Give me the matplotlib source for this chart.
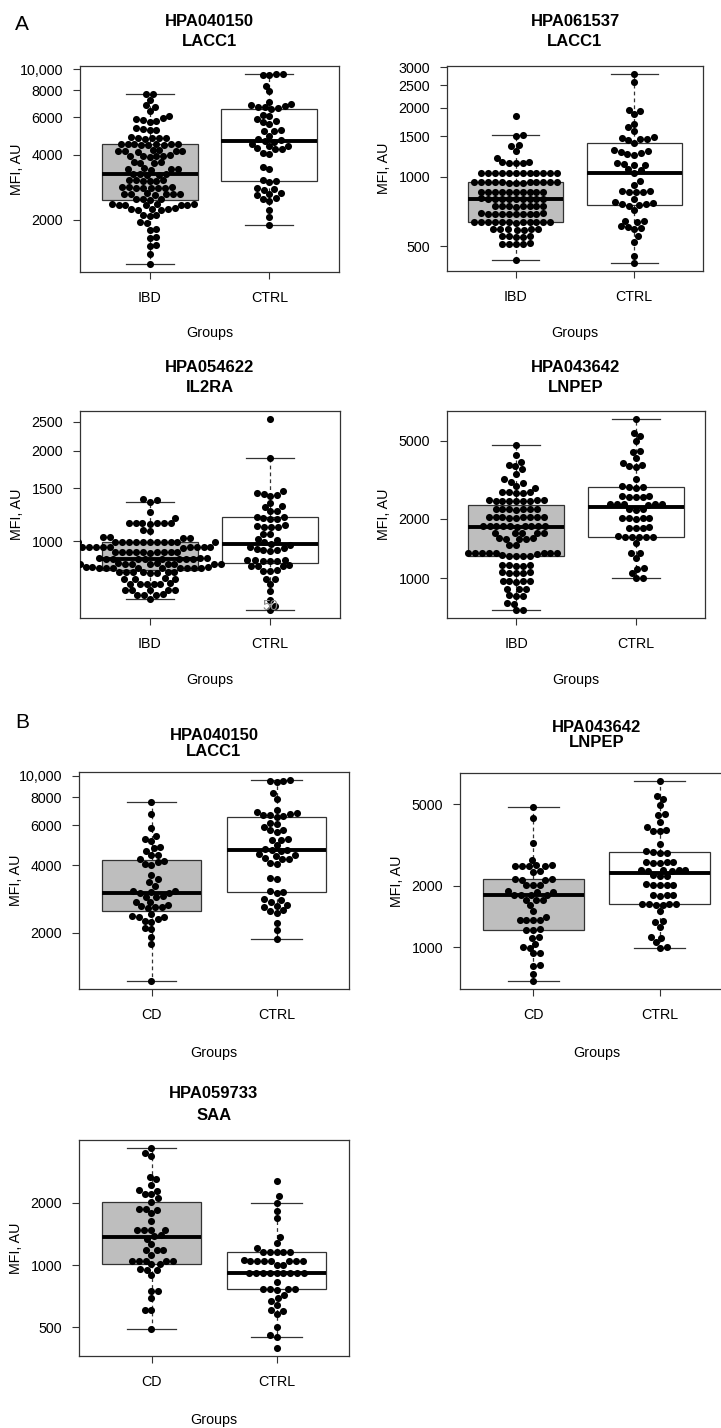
import numpy as np
import matplotlib
matplotlib.use('Agg')
import matplotlib.pyplot as plt
from matplotlib.ticker import NullLocator, FixedLocator, FixedFormatter

# ---------------- data (MFI, AU) ----------------
lacc1_040150_ibd = [7700, 7650, 7200, 6800, 6700, 6400, 6050, 5950,
    5850, 5800, 5750, 5700, 5350, 5300, 5250, 5200,
    4850, 4800, 4800, 4780, 4750, 4820,
    4520, 4500, 4480, 4500, 4460, 4490, 4510, 4470, 4450,
    4200, 4180, 4150, 4170, 4220, 4160, 4190,
    3980, 3950, 3960, 3940, 3970, 3930,
    3700, 3680, 3720, 3660,
    3460, 3440, 3450, 3420, 3430,
    3260, 3250, 3240, 3270, 3230,
    3060, 3050, 3040, 3030, 3020, 3050,
    2830, 2820, 2810, 2840, 2800, 2830, 2820, 2810,
    2640, 2630, 2620, 2650, 2630, 2610, 2640,
    2500, 2490, 2480, 2500,
    2360, 2350, 2340, 2370, 2350, 2330, 2360, 2340,
    2250, 2240, 2230, 2260, 2240, 2220,
    2100, 2090, 2110, 1950, 1930, 1820, 1800, 1670, 1650, 1530, 1510,
    1390, 1240]
lacc1_040150_ctrl = [9550, 9450, 9400, 9500, 8400, 7900,
    7050, 6900, 6800, 6750, 6700, 6650, 6600,
    6550, 6150, 6100, 5900, 5750, 5700, 5600, 5200, 5180, 5150,
    4900, 4720, 4680, 4650, 4600,
    4500, 4420, 4380, 4300, 4260, 4240, 4100, 4050,
    3500, 3450, 3060, 3040, 3000, 2820, 2790, 2750,
    2660, 2640, 2600, 2520, 2500, 2450, 2220, 2050, 1880]

lacc1_061537_ibd = [1840, 1515, 1505, 1380, 1365, 1300, 1205,
    1158, 1155, 1152, 1148, 1145,
    1042, 1040, 1044, 1038, 1041, 1039, 1043, 1037, 1040, 1042, 1038, 1041,
    948, 946, 950, 944, 947, 945, 949, 943, 946, 948, 944, 947, 945,
    860, 858, 862, 857, 861, 859, 863, 856, 860, 858,
    802, 800, 804, 799, 803, 801, 805, 798, 802, 800,
    746, 744, 748, 743, 747, 745, 749, 742,
    691, 689, 693, 688, 692, 690, 694, 687, 691, 689,
    636, 634, 638, 633, 637, 635, 639, 632, 636, 634, 638, 633,
    592, 590, 594, 589, 593, 591, 588,
    552, 550, 554, 549, 551,
    511, 509, 513, 508, 510, 434]
lacc1_061537_ctrl = [2815, 2600, 1960, 1940, 1880, 1700, 1640, 1580,
    1485, 1475, 1465, 1455, 1445, 1400,
    1310, 1295, 1280, 1265, 1255, 1250,
    1150, 1140, 1130, 1125, 1080, 1070, 1040, 955, 920,
    870, 865, 862, 858, 855, 800,
    775, 770, 765, 760, 755, 750, 720,
    645, 640, 635, 610, 605, 600, 595, 553, 521, 453, 420]

il2ra_ibd = [1380, 1370, 1355, 1250, 1200,
    1150, 1148, 1152, 1147, 1151, 1149, 1153, 1090, 1085,
    1032, 1030, 1028, 1031,
    996, 994, 998, 993, 997, 995, 999, 992, 996, 994, 998, 995,
    958, 956, 960, 955, 959, 957, 961, 954, 958, 956,
    922, 920, 924, 919, 923, 921, 925, 918, 922, 920,
    876, 874, 878, 873, 877, 875, 879, 872, 876, 874, 878,
    843, 841, 845, 840, 844, 842, 846, 839, 843, 841,
    818, 816, 820, 815, 819, 817, 821, 814, 818, 816, 820, 815,
    791, 789, 793, 788, 792, 790, 794, 787,
    752, 750, 748, 754, 724, 722, 720, 726, 721, 723,
    690, 688, 692, 687, 691, 666, 664, 668, 663, 645]
il2ra_ctrl = [2560, 1900, 1470, 1450, 1440, 1430, 1420,
    1340, 1310, 1300, 1262, 1258,
    1210, 1205, 1200, 1190, 1185, 1130, 1125, 1120, 1118, 1115,
    1062, 1058, 1015, 1010, 995, 980, 975, 960, 948, 945,
    940, 935, 930, 870, 868, 862, 858, 865, 860,
    832, 830, 828, 826, 802, 800, 798,
    752, 748, 722, 683, 638, 611, 590]

lnpep_ibd = [4770, 4240, 3900, 3780, 3700, 3580, 3400, 3200, 3100, 3050, 2950, 2880,
    2740, 2730, 2720, 2735, 2725,
    2485, 2480, 2475, 2490, 2470, 2482, 2478, 2488, 2472,
    2245, 2240, 2235, 2250, 2230, 2242, 2238,
    2045, 2040, 2035, 2050, 2030, 2042, 2038, 2048, 2032,
    1845, 1840, 1835, 1850, 1830, 1842, 1838, 1848, 1832, 1844,
    1705, 1700, 1695, 1702, 1698, 1595, 1590, 1585, 1592, 1588,
    1480, 1470,
    1345, 1340, 1335, 1342, 1338, 1344, 1336, 1348, 1332,
    1302, 1298, 1300, 1305, 1295, 1162, 1158, 1160, 1165, 1155,
    1068, 1062, 1065, 1070, 1060, 968, 962, 965, 970, 960,
    880, 876, 882, 815, 812, 818, 745, 740, 690, 685]
lnpep_ctrl = [6480, 5500, 5300, 4960, 4450, 4400, 4080, 3850, 3750, 3700, 3680, 3190,
    2940, 2920, 2880, 2900, 2620, 2600, 2590, 2610, 2580,
    2390, 2380, 2370, 2385, 2375, 2360, 2250, 2240, 2230,
    2030, 2020, 2010, 2025, 2015, 1810, 1800, 1790, 1805,
    1625, 1620, 1615, 1630, 1610, 1622,
    1500, 1345, 1335, 1260, 1125, 1115, 1065, 1002, 998]

lacc1_040150_cd = [7600, 6740, 5830, 5400, 5200, 5100, 4800, 4750, 4600, 4450, 4440,
    4250, 4150, 4140, 4050, 4000,
    3600, 3450, 3350, 3230, 3050, 3045, 3000, 3005, 3050,
    2900, 2895, 2880, 2750, 2730, 2650, 2600, 2570, 2605, 2620,
    2420, 2380, 2350, 2260, 2240, 2310, 2345,
    2070, 2100, 1910, 1780, 1220]
lnpep_cd = [4820, 4270, 3240, 2680, 2510, 2500, 2495, 2505, 2490, 2515,
    2360, 2340, 2150, 2140, 2135, 2145, 2025, 2020, 2015,
    1875, 1870, 1865, 1805, 1800, 1795, 1810, 1705, 1700, 1695,
    1610, 1500, 1410, 1365, 1360, 1355, 1362, 1225, 1220, 1215,
    1125, 1115, 1040, 1002, 998, 940, 935, 818, 812, 743, 685]

saa_cd = [3685, 3490, 3380, 2680, 2600, 2450, 2300, 2295, 2200, 2200, 2100, 2030,
    1865, 1860, 1855, 1780, 1640,
    1485, 1480, 1478, 1482, 1400, 1380, 1340, 1260,
    1185, 1180, 1178, 1120,
    1052, 1050, 1048, 1051, 1049, 1012, 1008,
    955, 950, 948, 900, 752, 748, 690, 607, 603, 493]
saa_ctrl = [2560, 2150, 2000, 1830, 1685, 1370, 1283, 1215,
    1158, 1155, 1152, 1156, 1154,
    1052, 1050, 1048, 1051, 1049, 1053, 1047, 1050, 1002, 998,
    916, 914, 912, 915, 913, 917, 911, 914, 916, 830,
    765, 763, 761, 764, 762,
    720, 690, 670, 640, 605, 602, 580, 500, 460, 450, 397]

groups_a = ['IBD', 'CTRL']
groups_b = ['CD', 'CTRL']
ticks_lacc1_a = [2000, 4000, 6000, 8000, 10000]
labels_lacc1_a = ['2000', '4000', '6000', '8000', '10,000']
ticks_061537 = [500, 1000, 1500, 2000, 2500, 3000]
labels_061537 = ['500', '1000', '1500', '2000', '2500', '3000']
ticks_il2ra = [1000, 1500, 2000, 2500]
labels_il2ra = ['1000', '1500', '2000', '2500']
ticks_lnpep = [1000, 2000, 5000]
labels_lnpep = ['1000', '2000', '5000']
ticks_saa = [500, 1000, 2000]
labels_saa = ['500', '1000', '2000']

# ---------------- figure ----------------
W, H = 721, 1428
plt.rcParams['font.family'] = ['Liberation Sans', 'DejaVu Sans']
fig = plt.figure(figsize=(W / 100, H / 100), dpi=100)
EDGE = '#333333'
FS = 10.3


def add_ax(l, t, r, b):
    return fig.add_axes([l / W, 1 - b / H, (r - l) / W, (b - t) / H])


def ptext(x, y, s, **kw):
    ha = kw.pop('ha', 'center')
    va = kw.pop('va', 'center')
    fig.text(x / W, 1 - y / H, s, ha=ha, va=va, **kw)


def box_stats(vals):
    lv = np.sort(np.log10(np.asarray(vals, float)))
    n = len(lv)
    n4 = np.floor((n + 3) / 2) / 2
    d = np.array([1, n4, (n + 1) / 2, n + 1 - n4, n])
    fn = 0.5 * (lv[np.floor(d).astype(int) - 1] + lv[np.ceil(d).astype(int) - 1])
    q1, med, q3 = fn[1], fn[2], fn[3]
    iqr = q3 - q1
    lo = lv[lv >= q1 - 1.5 * iqr].min()
    hi = lv[lv <= q3 + 1.5 * iqr].max()
    return dict(q1=10 ** q1, med=10 ** med, q3=10 ** q3,
                whislo=10 ** lo, whishi=10 ** hi, fliers=[])


def swarm(ax, vals, xc, d_px):
    vals = np.asarray(vals, float)
    pts = ax.transData.transform(np.column_stack([np.full(len(vals), xc), vals]))
    ys = pts[:, 1]
    x0 = pts[0, 0]
    order = np.argsort(ys)
    px_l, py_l = [], []
    xs = np.zeros(len(vals))
    for k, i in enumerate(order):
        y = ys[i]
        near = [(px, py) for px, py in zip(px_l, py_l) if abs(py - y) < d_px]
        cands = [0.0]
        for px, py in near:
            dx = np.sqrt(d_px ** 2 - (py - y) ** 2)
            cands += [px + dx, px - dx]
        sgn = 1 if k % 2 == 0 else -1
        cands = sorted(cands, key=lambda c: (round(abs(c), 4), sgn * c))
        for c in cands:
            if all((c - px) ** 2 + (y - py) ** 2 >= d_px ** 2 - 1e-6 for px, py in near):
                xs[i] = c
                break
        px_l.append(xs[i])
        py_l.append(y)
    data = ax.transData.inverted().transform(np.column_stack([x0 + xs, ys]))
    return data[:, 0]


panels = [
    dict(pos=(80, 66, 339, 272), groups=groups_a, data=(lacc1_040150_ibd, lacc1_040150_ctrl),
         ticks=ticks_lacc1_a, labels=labels_lacc1_a, title=('HPA040150', 'LACC1'), ty=(21, 42), gy=333),
    dict(pos=(447, 66, 703, 271), groups=groups_a, data=(lacc1_061537_ibd, lacc1_061537_ctrl),
         ticks=ticks_061537, labels=labels_061537, title=('HPA061537', 'LACC1'), ty=(21, 42), gy=333),
    dict(pos=(80, 411, 340, 618), groups=groups_a, data=(il2ra_ibd, il2ra_ctrl),
         ticks=ticks_il2ra, labels=labels_il2ra, title=('HPA054622', 'IL2RA'), ty=(368, 388), gy=680),
    dict(pos=(447, 411, 705, 618), groups=groups_a, data=(lnpep_ibd, lnpep_ctrl),
         ticks=ticks_lnpep, labels=labels_lnpep, title=('HPA043642', 'LNPEP'), ty=(368, 388), gy=680),
    dict(pos=(79, 772, 349, 989), groups=groups_b, data=(lacc1_040150_cd, lacc1_040150_ctrl),
         ticks=ticks_lacc1_a, labels=labels_lacc1_a, title=('HPA040150', 'LACC1'), ty=(736, 751), gy=1053),
    dict(pos=(460, 773, 733, 989), groups=groups_b, data=(lnpep_cd, lnpep_ctrl),
         ticks=ticks_lnpep, labels=labels_lnpep, title=('HPA043642', 'LNPEP'), ty=(727, 742), gy=1053),
    dict(pos=(79, 1140, 349, 1356), groups=groups_b, data=(saa_cd, saa_ctrl),
         ticks=ticks_saa, labels=labels_saa, title=('HPA059733', 'SAA'), ty=(1093, 1115), gy=1420),
]

axes = []
for p in panels:
    l, t, r, b = p['pos']
    ax = add_ax(l, t, r, b)
    axes.append(ax)
    ax.set_yscale('log')
    allv = np.log10(np.concatenate([np.asarray(v, float) for v in p['data']]))
    lo, hi = allv.min(), allv.max()
    ext = 0.04 * (hi - lo)
    ax.set_ylim(10 ** (lo - ext), 10 ** (hi + ext))
    ax.set_xlim(0.42, 2.58)

    stats = [box_stats(v) for v in p['data']]
    bp = ax.bxp(stats, positions=[1, 2], widths=0.8, patch_artist=True, showfliers=False,
                manage_ticks=False,
                boxprops=dict(edgecolor=EDGE, linewidth=0.9),
                whiskerprops=dict(color=EDGE, linewidth=0.9, linestyle=(0, (3, 2.5))),
                capprops=dict(color=EDGE, linewidth=0.9),
                medianprops=dict(color='black', linewidth=2.8, solid_capstyle='butt'),
                zorder=2)
    bp['boxes'][0].set_facecolor('#bebebe')
    bp['boxes'][1].set_facecolor('white')

    ax.set_xlim(0.42, 2.58)
    ax.set_yscale('log')
    ax.set_ylim(10 ** (lo - ext), 10 ** (hi + ext))
    ax.yaxis.set_major_locator(FixedLocator(p['ticks']))
    ax.yaxis.set_major_formatter(FixedFormatter(p['labels']))
    ax.yaxis.set_minor_locator(NullLocator())
    ax.set_xticks([1, 2])
    ax.set_xticklabels(p['groups'])
    ax.xaxis.set_minor_locator(NullLocator())
    ax.tick_params(axis='both', direction='out', length=5, width=0.8, color=EDGE,
                   labelsize=FS, labelcolor='black')
    ax.tick_params(axis='x', pad=9)
    ax.tick_params(axis='y', pad=7)
    for s in ax.spines.values():
        s.set_color(EDGE)
        s.set_linewidth(0.9)

    for gi, vals in enumerate(p['data']):
        xs = swarm(ax, vals, gi + 1, 6.9)
        ax.scatter(xs, vals, s=26, c='black', linewidths=0, zorder=4)

    cx = (l + r) / 2
    ptext(cx, p['ty'][0], p['title'][0], fontsize=12, fontweight='bold')
    ptext(cx, p['ty'][1], p['title'][1], fontsize=12, fontweight='bold')
    ptext(cx, p['gy'], 'Groups', fontsize=FS)
    ptext(l - 63, (t + b) / 2, 'MFI, AU', fontsize=FS, rotation=90)

# stray label inside the IL2RA panel
axes[2].text(2, 611, '50', color='#8a8a8a', fontsize=FS, ha='center', va='center', zorder=5)

ptext(22, 25, 'A', fontsize=15)
ptext(22, 723, 'B', fontsize=15)

fig.savefig('out.png', dpi=100)
